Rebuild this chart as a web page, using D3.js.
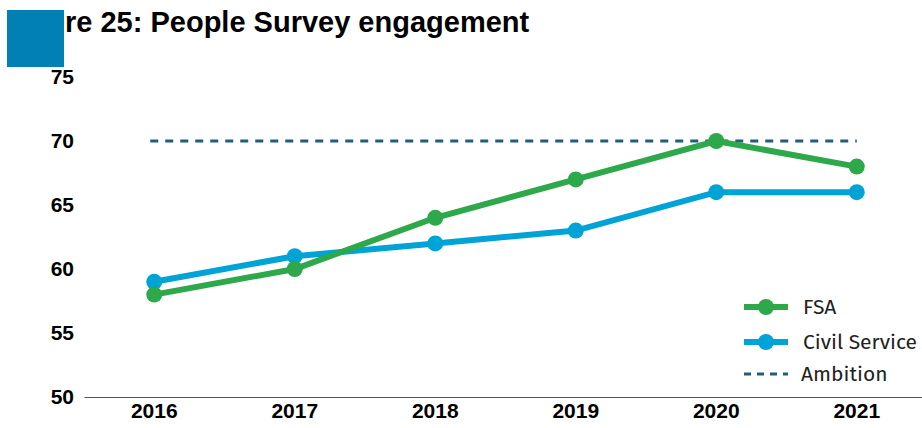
<!DOCTYPE html>
<html>
<head>
<meta charset="utf-8">
<script src="https://cdn.jsdelivr.net/npm/d3@7"></script>
<style>
  body { margin: 0; background: #fff; }
  svg { display: block; }
</style>
</head>
<body>
<div id="chart"></div>
<script>
// data
var years = ["2016", "2017", "2018", "2019", "2020", "2021"];
var fsa = [58, 60, 64, 67, 70, 68];
var civilService = [59, 61, 62, 63, 66, 66];
var ambition = 70;
var yTicks = [50, 55, 60, 65, 70, 75];

var W = 922, H = 428;

var svg = d3.select("#chart").append("svg")
    .attr("width", W)
    .attr("height", H);

// scales
var x = d3.scaleBand()
    .domain(years)
    .range([84, 927]);
var y = d3.scaleLinear()
    .domain([50, 75])
    .range([397, 77]);

var cx = function(d) { return x(d) + x.bandwidth() / 2; };

// title with the blue block on top of its start
svg.append("text")
    .attr("x", 65)
    .attr("y", 32)
    .style("font-family", "Liberation Sans, Arial, sans-serif")
    .style("font-weight", "bold")
    .style("font-size", "29px")
    .attr("fill", "#000")
    .text("re 25: People Survey engagement");

svg.append("rect")
    .attr("x", 7).attr("y", 10)
    .attr("width", 57).attr("height", 57)
    .attr("fill", "#0080b4");

// y axis labels (no line)
svg.append("g").selectAll("text")
    .data(yTicks)
  .enter().append("text")
    .attr("x", 74)
    .attr("y", function(d) { return y(d); })
    .attr("dy", "0.35em")
    .attr("text-anchor", "end")
    .style("font-family", "Liberation Sans, Arial, sans-serif")
    .style("font-weight", "bold")
    .style("font-size", "21px")
    .text(function(d) { return d; });

// x axis
var xAxis = svg.append("g")
    .attr("transform", "translate(0," + y(50) + ")")
    .call(d3.axisBottom(x).tickSize(0).tickPadding(6));
xAxis.select(".domain").attr("stroke", "#555").attr("stroke-width", 1.2);
xAxis.selectAll("text")
    .style("font-family", "Liberation Sans, Arial, sans-serif")
    .style("font-weight", "bold")
    .style("font-size", "21px")
    .attr("fill", "#000");

// ambition line
svg.append("line")
    .attr("x1", cx(years[0]) - 4)
    .attr("x2", cx(years[years.length - 1]))
    .attr("y1", y(ambition))
    .attr("y2", y(ambition))
    .attr("stroke", "#1d5f7c")
    .attr("stroke-width", 3)
    .attr("stroke-dasharray", "8,7");

var line = d3.line()
    .x(function(d, i) { return cx(years[i]); })
    .y(function(d) { return y(d); });

var series = [
  { name: "FSA", values: fsa, color: "#2da84a" },
  { name: "Civil Service", values: civilService, color: "#00a3d6" }
];

// draw civil service first so FSA sits on top where they cross
series.slice().reverse().forEach(function(s) {
  svg.append("path")
      .datum(s.values)
      .attr("fill", "none")
      .attr("stroke", s.color)
      .attr("stroke-width", 6)
      .attr("d", line);
  svg.selectAll(null)
      .data(s.values)
    .enter().append("circle")
      .attr("cx", function(d, i) { return cx(years[i]); })
      .attr("cy", function(d) { return y(d); })
      .attr("r", 8)
      .attr("fill", s.color);
});

// legend
var legend = svg.append("g").attr("transform", "translate(744,0)");
var legendRows = [
  { name: "FSA", color: "#2da84a", y: 307, type: "line" },
  { name: "Civil Service", color: "#00a3d6", y: 342, type: "line" },
  { name: "Ambition", color: "#1d5f7c", y: 374, type: "dash" }
];
legendRows.forEach(function(r) {
  if (r.type === "line") {
    legend.append("line")
        .attr("x1", 0).attr("x2", 44)
        .attr("y1", r.y).attr("y2", r.y)
        .attr("stroke", r.color).attr("stroke-width", 6);
    legend.append("circle")
        .attr("cx", 22).attr("cy", r.y).attr("r", 8)
        .attr("fill", r.color);
  } else {
    legend.append("line")
        .attr("x1", 0).attr("x2", 44)
        .attr("y1", r.y).attr("y2", r.y)
        .attr("stroke", r.color).attr("stroke-width", 3)
        .attr("stroke-dasharray", "7,6");
  }
  legend.append("text")
      .attr("x", r.type === "line" ? 59 : 57)
      .attr("y", r.y)
      .attr("dy", "0.35em")
      .style("font-family", "'Fira Sans', 'Open Sans', sans-serif")
      .style("font-size", "21px")
      .attr("fill", "#222")
      .text(r.name);
});
</script>
</body>
</html>
